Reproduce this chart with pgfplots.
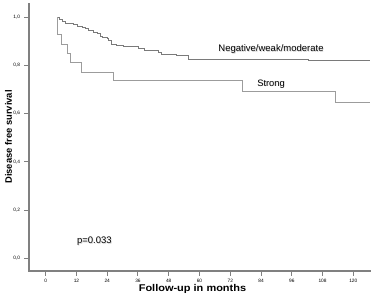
\documentclass[border=0pt]{standalone}
\usepackage{fontspec}
\setmainfont{Liberation Sans}
\usepackage{pgfplots}
\pgfplotsset{compat=1.18}
\definecolor{negc}{HTML}{7A7A7A}
\definecolor{strc}{HTML}{9C9C9C}
\definecolor{shc}{HTML}{D8D8D8}
\begin{document}
\begin{tikzpicture}
\useasboundingbox (-29pt,-27pt) rectangle (349pt,271pt);
\begin{axis}[
  scale only axis, width=342pt, height=268pt,
  xmin=-6.5, xmax=126.9, ymin=-0.052, ymax=1.058,
  axis lines=left,
  axis line style={gray, line width=1.6pt},
  x axis line style={-}, y axis line style={-},
  xtick={0,12,...,120}, ytick={0,0.2,0.4,0.6,0.8,1.0},
  tick align=outside, major tick length=4.5pt,
  xtick style={gray, line width=1pt},
  ytick style={gray, line width=1pt},
  /pgf/number format/assume math mode=true,
  yticklabel style={font=\fontsize{4.8}{5}\selectfont, xshift=-1pt,
    /pgf/number format/use comma, /pgf/number format/fixed,
    /pgf/number format/fixed zerofill, /pgf/number format/precision=1},
  xticklabel style={font=\fontsize{4.8}{5}\selectfont},
  xlabel={\scalebox{1.12}[1]{\bfseries Follow-up in months}},
  xlabel style={at={(axis description cs:0.478,0)}, anchor=center, yshift=-18.3pt, font=\fontsize{9.8}{11}\selectfont},
  ylabel={\bfseries Disease free survival},
  ylabel style={at={(axis description cs:0,0.5)}, anchor=center, yshift=20.5pt, font=\fontsize{9.4}{11}\selectfont},
  clip=false,
]
\draw[gray, line width=1.6pt] (rel axis cs:0,1) -- (rel axis cs:0,0) -- (rel axis cs:1,0);
\addplot[const plot, draw=negc, line width=0.8pt] coordinates {
(4.5,1.0) (5.3,0.990) (6.4,0.983) (7.6,0.975) (9.6,0.972) (10.9,0.968)
(12.2,0.963) (14.2,0.959) (15.5,0.952) (16.8,0.943) (18.7,0.938) (20.0,0.931)
(21.3,0.921) (22.0,0.916) (23.9,0.910) (24.3,0.902) (25.6,0.888) (27.5,0.883)
(30.2,0.880) (34.7,0.877) (36.0,0.869) (38.6,0.863) (41.9,0.860) (43.8,0.852)
(45.1,0.847) (47.7,0.844) (51.0,0.839) (55.6,0.826) (102.5,0.822) (126.5,0.822)
};
\addplot[const plot, draw=strc, line width=0.8pt] coordinates {
(4.5,1.0) (4.6,0.927) (6.2,0.887) (8.6,0.848) (9.5,0.810) (13.8,0.769)
(26.4,0.736) (76.9,0.691) (113.1,0.645) (126.5,0.645)
};
\node[text=shc, font=\fontsize{9.5}{11}\selectfont] at (axis cs:87.9,0.867) [xshift=0.7pt, yshift=-0.7pt] {Negative/weak/moderate};
\node[font=\fontsize{9.5}{11}\selectfont] at (axis cs:87.9,0.867) {Negative/weak/moderate};
\node[text=shc, font=\fontsize{9.3}{11}\selectfont] at (axis cs:87.9,0.7226) [xshift=0.7pt, yshift=-0.7pt] {Strong};
\node[font=\fontsize{9.3}{11}\selectfont] at (axis cs:87.9,0.7226) {Strong};
\node[text=shc, font=\fontsize{9.5}{11}\selectfont] at (axis cs:19.0,0.0696) [xshift=0.7pt, yshift=-0.7pt] {p=0.033};
\node[font=\fontsize{9.5}{11}\selectfont] at (axis cs:19.0,0.0696) {p=0.033};
\end{axis}
\end{tikzpicture}
\end{document}
